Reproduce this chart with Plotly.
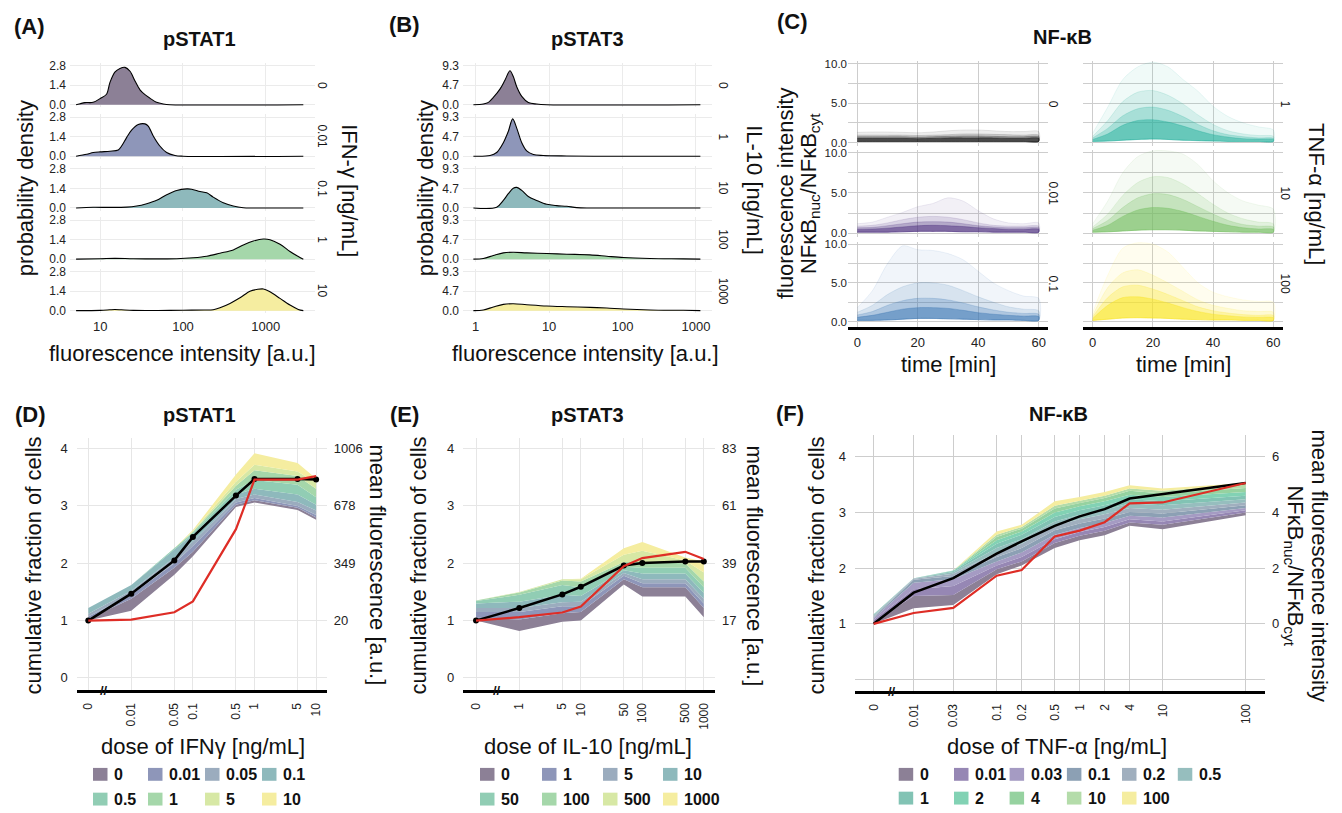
import numpy as np
import plotly.graph_objects as go

W, H = 1342, 813
FONT = "Liberation Sans, Arial, Helvetica, sans-serif"

# ---------------- (A) pSTAT1 single-cell densities ----------------
A_doses = ["0", "0.01", "0.1", "1", "10"]
A_int = [
    [5.1, 5.7, 6.5, 8.2, 10, 11.9, 13.1, 15.1, 17.3, 19.9, 22.9, 26.3, 30.2, 34.7, 39.8, 47.9, 57.8, 69.7, 2850],
    [5.1, 6.86, 8.22, 10, 13.1, 16.5, 18.1, 20.8, 23.9, 28.8, 34.7, 38, 43.7, 52.5, 63.4, 80, 100, 2850],
    [5.1, 8.2, 13.1, 20.8, 27.5, 36.4, 48.1, 63.5, 84, 111, 127, 161, 194, 232, 307, 405, 536, 708, 2850],
    [5.1, 10, 15, 25, 50, 84, 133, 194, 280, 405, 536, 708, 935, 1127, 1489, 1966, 2478, 2850],
    [5.1, 10, 13, 15, 18, 25, 50, 100, 180, 232, 280, 370, 489, 645, 780, 935, 1127, 1489, 1966, 2478, 2850],
]
A_dens = [
    [0, 0.07, 0.15, 0.17, 0.45, 0.75, 1.6, 2.35, 2.6, 2.68, 2.4, 1.7, 1.07, 0.72, 0.47, 0.17, 0.05, 0, 0],
    [0, 0.14, 0.26, 0.31, 0.36, 0.45, 0.73, 1.33, 1.87, 2.27, 2.32, 2.16, 1.45, 0.73, 0.26, 0.05, 0, 0],
    [0, 0.05, 0.04, 0.06, 0.14, 0.31, 0.55, 0.95, 1.26, 1.37, 1.35, 1.18, 1.09, 0.78, 0.38, 0.14, 0.02, 0, 0],
    [0, 0.03, 0.06, 0.03, 0.02, 0.03, 0.1, 0.21, 0.43, 0.66, 1.02, 1.3, 1.45, 1.4, 1.07, 0.55, 0.19, 0],
    [0, 0.02, 0.06, 0.08, 0.06, 0.02, 0.01, 0.03, 0.05, 0.07, 0.21, 0.52, 0.92, 1.4, 1.52, 1.56, 1.35, 0.88, 0.4, 0.09, 0],
]

# ---------------- (B) pSTAT3 single-cell densities ----------------
B_doses = ["0", "1", "10", "100", "1000"]
B_int = [
    [0.93, 1.27, 1.49, 1.74, 2.14, 2.51, 2.93, 3.25, 3.62, 4.24, 5.21, 6.78, 9.27, 1150],
    [0.93, 1.57, 1.93, 2.38, 2.78, 3.19, 3.62, 4.24, 4.95, 6.1, 8.3, 17.4, 40, 1150],
    [0.93, 1.93, 2.38, 2.78, 3.25, 3.62, 4.24, 5.21, 6.78, 9.27, 12.7, 17.4, 23.8, 36.1, 1150],
    [0.93, 1.27, 1.74, 2.38, 3.25, 4.95, 9.27, 17.4, 36.1, 61, 103, 237, 675, 1150],
    [0.93, 1.27, 1.74, 2.38, 3.25, 4.95, 9.27, 17.4, 36.1, 61, 103, 237, 675, 1150],
]
B_dens = [
    [0, 0.16, 0.55, 1.73, 3.7, 5.9, 8.1, 6.7, 4.3, 2.0, 0.55, 0.16, 0, 0],
    [0, 0.16, 0.87, 3.2, 5.9, 8.9, 6.7, 3.2, 1.26, 0.4, 0.16, 0.05, 0, 0],
    [0, 0.16, 1.8, 3.4, 4.7, 4.9, 4.2, 2.75, 1.8, 0.87, 0.55, 0.4, 0.08, 0, 0],
    [0, 0.16, 0.87, 1.5, 1.65, 1.5, 1.34, 1.18, 1.02, 0.7, 0.39, 0.16, 0.08, 0],
    [0, 0.16, 0.87, 1.5, 1.65, 1.42, 1.1, 0.94, 0.79, 0.63, 0.39, 0.16, 0.08, 0],
]

# ---------------- (C) NF-kB trajectories (envelopes over cells) ----------------
C_time = [0, 5, 10, 15, 20, 25, 30, 35, 40, 45, 50, 55, 60]
C_doses = ["0", "0.01", "0.1", "1", "10", "100"]
C_lo = [
    [0.15, 0.15, 0.15, 0.15, 0.15, 0.15, 0.15, 0.15, 0.15, 0.15, 0.15, 0.15, 0.15],
    [0.15, 0.15, 0.15, 0.2, 0.25, 0.25, 0.25, 0.2, 0.2, 0.15, 0.15, 0.15, 0.15],
    [0.15, 0.15, 0.2, 0.3, 0.4, 0.4, 0.35, 0.3, 0.25, 0.2, 0.2, 0.15, 0.15],
    [0.15, 0.2, 0.3, 0.4, 0.45, 0.4, 0.3, 0.25, 0.2, 0.15, 0.15, 0.15, 0.15],
    [0.15, 0.2, 0.3, 0.4, 0.45, 0.45, 0.4, 0.3, 0.25, 0.2, 0.15, 0.15, 0.15],
    [0.15, 0.3, 0.45, 0.5, 0.45, 0.4, 0.3, 0.25, 0.2, 0.2, 0.15, 0.15, 0.15],
]
C_q50 = [
    [0.55, 0.55, 0.55, 0.55, 0.5, 0.55, 0.6, 0.6, 0.6, 0.6, 0.55, 0.55, 0.55],
    [0.5, 0.55, 0.65, 0.8, 0.95, 1.0, 0.95, 0.85, 0.7, 0.6, 0.5, 0.5, 0.5],
    [0.55, 0.8, 1.2, 1.6, 1.8, 1.8, 1.7, 1.45, 1.15, 0.95, 0.8, 0.7, 0.65],
    [0.4, 1.1, 2.2, 2.8, 2.9, 2.6, 2.1, 1.5, 1.0, 0.7, 0.5, 0.45, 0.4],
    [0.4, 1.0, 2.1, 2.9, 3.2, 3.1, 2.7, 2.1, 1.5, 1.0, 0.7, 0.55, 0.5],
    [0.4, 2.1, 3.1, 3.2, 2.9, 2.4, 1.8, 1.3, 0.95, 0.75, 0.6, 0.55, 0.5],
]
C_q75 = [
    [0.75, 0.75, 0.75, 0.75, 0.7, 0.75, 0.8, 0.85, 0.85, 0.8, 0.75, 0.75, 0.75],
    [0.7, 0.75, 0.95, 1.2, 1.4, 1.45, 1.4, 1.2, 0.95, 0.8, 0.7, 0.7, 0.7],
    [0.85, 1.3, 2.1, 2.7, 3.0, 3.0, 2.8, 2.4, 1.9, 1.5, 1.2, 1.05, 0.95],
    [0.6, 1.8, 3.4, 4.3, 4.5, 4.1, 3.3, 2.3, 1.5, 1.0, 0.75, 0.6, 0.55],
    [0.6, 1.6, 3.2, 4.4, 4.9, 4.8, 4.2, 3.3, 2.4, 1.6, 1.1, 0.9, 0.8],
    [0.6, 3.1, 4.5, 4.7, 4.2, 3.5, 2.7, 1.9, 1.4, 1.1, 0.9, 0.8, 0.8],
]
C_q90 = [
    [0.95, 0.95, 0.95, 0.95, 0.9, 0.95, 1.0, 1.1, 1.1, 1.05, 1.0, 0.95, 0.95],
    [0.9, 1.0, 1.3, 1.7, 2.0, 2.1, 2.0, 1.7, 1.3, 1.0, 0.9, 0.9, 0.9],
    [1.2, 2.1, 3.5, 4.5, 5.0, 5.0, 4.7, 4.0, 3.2, 2.5, 1.9, 1.6, 1.4],
    [0.8, 2.8, 5.2, 6.4, 6.6, 6.0, 4.9, 3.5, 2.3, 1.5, 1.1, 0.9, 0.8],
    [0.8, 2.4, 4.7, 6.3, 7.0, 6.9, 6.1, 4.9, 3.6, 2.5, 1.8, 1.4, 1.2],
    [0.8, 4.4, 6.3, 6.7, 6.0, 5.0, 3.9, 2.8, 2.1, 1.7, 1.4, 1.3, 1.2],
]
C_max = [
    [1.3, 1.35, 1.35, 1.3, 1.25, 1.35, 1.5, 1.6, 1.6, 1.5, 1.4, 1.4, 1.4],
    [1.2, 1.4, 2.0, 2.6, 3.3, 3.7, 4.4, 4.0, 2.8, 1.8, 1.3, 1.2, 1.3],
    [1.8, 4.0, 7.5, 9.8, 9.3, 9.2, 8.8, 8.0, 6.5, 5.0, 4.0, 3.3, 3.0],
    [1.2, 4.5, 8.0, 9.6, 10.2, 9.6, 8.0, 6.5, 4.6, 3.3, 2.5, 2.0, 1.6],
    [1.2, 4.0, 7.5, 9.5, 10.2, 10.2, 9.8, 8.5, 6.5, 5.0, 4.0, 3.5, 3.0],
    [1.2, 6.0, 9.5, 10.2, 10.0, 9.0, 7.0, 5.0, 3.8, 3.2, 2.8, 2.6, 2.5],
]
C_rgb = [(0, 0, 0), (75, 45, 125), (60, 120, 180), (40, 178, 158), (115, 190, 95), (250, 230, 35)]

# ---------------- (D) pSTAT1 dose response ----------------
D_doses = [0, 0.01, 0.05, 0.1, 0.5, 1, 5, 10]
D_labels = ["0", "0.01", "0.05", "0.1", "0.5", "1", "5", "10"]
D_mean = [1.0, 1.47, 2.05, 2.46, 3.18, 3.47, 3.47, 3.46]
D_fluo = [20, 26, 68, 130, 544, 828, 828, 848]
D_bounds = [
    [1.00, 1.17, 1.80, 2.12, 2.98, 3.06, 2.93, 2.76],
    [1.03, 1.38, 1.92, 2.20, 3.02, 3.10, 2.97, 2.80],
    [1.07, 1.45, 2.00, 2.30, 3.06, 3.14, 3.00, 2.84],
    [1.12, 1.52, 2.10, 2.38, 3.12, 3.20, 3.07, 2.92],
    [1.22, 1.62, 2.24, 2.50, 3.20, 3.30, 3.20, 3.02],
    [1.22, 1.62, 2.26, 2.53, 3.28, 3.45, 3.37, 3.15],
    [1.22, 1.62, 2.26, 2.55, 3.35, 3.62, 3.52, 3.30],
    [1.22, 1.62, 2.26, 2.56, 3.42, 3.72, 3.60, 3.40],
    [1.22, 1.62, 2.26, 2.58, 3.55, 3.92, 3.75, 3.48],
]
D_colors = ["rgb(140,128,150)", "rgb(142,150,185)", "rgb(155,172,190)", "rgb(142,185,188)",
            "rgb(145,205,180)", "rgb(165,215,170)", "rgb(215,232,165)", "rgb(245,237,160)"]

# ---------------- (E) pSTAT3 dose response ----------------
E_doses = [0, 1, 5, 10, 50, 100, 500, 1000]
E_labels = ["0", "1", "5", "10", "50", "100", "500", "1000"]
E_mean = [1.0, 1.22, 1.457, 1.59, 1.96, 2.006, 2.03, 2.03]
E_fluo = [17, 18.3, 20.1, 22.4, 37.9, 41, 43.4, 40.6]
E_bounds = [
    [1.00, 0.82, 0.98, 1.00, 1.63, 1.42, 1.42, 1.06],
    [1.05, 1.02, 1.13, 1.15, 1.72, 1.58, 1.58, 1.22],
    [1.15, 1.15, 1.25, 1.25, 1.78, 1.65, 1.65, 1.30],
    [1.22, 1.22, 1.32, 1.33, 1.83, 1.72, 1.72, 1.38],
    [1.30, 1.33, 1.45, 1.43, 1.88, 1.82, 1.82, 1.48],
    [1.34, 1.45, 1.62, 1.58, 1.94, 1.92, 1.92, 1.58],
    [1.35, 1.49, 1.70, 1.68, 2.02, 2.02, 2.00, 1.68],
    [1.35, 1.50, 1.72, 1.72, 2.15, 2.22, 2.05, 1.84],
    [1.35, 1.50, 1.72, 1.73, 2.26, 2.37, 2.10, 2.03],
]
E_colors = D_colors

# ---------------- (F) NF-kB dose response ----------------
F_doses = [0, 0.01, 0.03, 0.1, 0.2, 0.5, 1, 2, 4, 10, 100]
F_labels = ["0", "0.01", "0.03", "0.1", "0.2", "0.5", "1", "2", "4", "10", "100"]
F_mean = [1.0, 1.56, 1.82, 2.26, 2.48, 2.76, 2.93, 3.06, 3.25, 3.33, 3.53]
F_fluo = [0, 0.39, 0.57, 1.73, 1.93, 3.14, 3.35, 3.65, 4.33, 4.36, 5.06]
F_bounds = [
    [1.00, 1.28, 1.34, 1.89, 2.05, 2.36, 2.50, 2.59, 2.76, 2.70, 2.95],
    [1.03, 1.50, 1.52, 1.98, 2.12, 2.45, 2.58, 2.67, 2.82, 2.78, 3.00],
    [1.07, 1.62, 1.68, 2.05, 2.20, 2.52, 2.65, 2.74, 2.88, 2.84, 3.04],
    [1.10, 1.74, 1.80, 2.12, 2.28, 2.60, 2.72, 2.81, 2.94, 2.91, 3.08],
    [1.12, 1.79, 1.86, 2.20, 2.36, 2.68, 2.80, 2.89, 3.01, 2.98, 3.13],
    [1.14, 1.81, 1.90, 2.28, 2.44, 2.76, 2.88, 2.97, 3.08, 3.05, 3.18],
    [1.16, 1.82, 1.93, 2.36, 2.52, 2.84, 2.96, 3.05, 3.16, 3.13, 3.24],
    [1.17, 1.82, 1.95, 2.44, 2.60, 2.92, 3.04, 3.13, 3.24, 3.20, 3.30],
    [1.17, 1.82, 1.96, 2.50, 2.66, 3.00, 3.11, 3.20, 3.32, 3.28, 3.37],
    [1.17, 1.82, 1.96, 2.56, 2.71, 3.07, 3.17, 3.26, 3.39, 3.34, 3.44],
    [1.17, 1.82, 1.96, 2.60, 2.74, 3.12, 3.21, 3.30, 3.43, 3.39, 3.50],
    [1.17, 1.82, 1.96, 2.66, 2.78, 3.20, 3.28, 3.37, 3.49, 3.43, 3.53],
]
F_colors = ["rgb(140,128,150)", "rgb(150,135,180)", "rgb(165,155,195)", "rgb(140,160,180)",
            "rgb(160,175,190)", "rgb(150,190,190)", "rgb(130,195,180)", "rgb(130,210,180)",
            "rgb(150,210,160)", "rgb(180,220,170)", "rgb(245,237,160)"]

A_colors = [D_colors[0], D_colors[1], D_colors[3], D_colors[5], D_colors[7]]
B_colors = [E_colors[0], E_colors[1], E_colors[3], E_colors[5], E_colors[7]]

# ---------------------------------------------------------------------------
fig = go.Figure()
axes = {}
ann = []
shapes = []
n_ax = [0]
TICKFONT = dict(family=FONT, size=12, color="#222")
GRID_LIGHT = "#ebebeb"
GRID_DARK = "#cdcdcd"


def add_axes(xpx, ypx, xr, yr, xkw=None, ykw=None):
    n_ax[0] += 1
    s = "" if n_ax[0] == 1 else str(n_ax[0])
    xa = dict(domain=[xpx[0] / W, xpx[1] / W], range=xr, anchor="y" + s,
              zeroline=False, tickfont=TICKFONT, ticks="")
    ya = dict(domain=[1 - ypx[1] / H, 1 - ypx[0] / H], range=yr, anchor="x" + s,
              zeroline=False, tickfont=TICKFONT, ticks="")
    xa.update(xkw or {})
    ya.update(ykw or {})
    axes["xaxis" + s] = xa
    axes["yaxis" + s] = ya
    return "x" + s, "y" + s


def add_right_axis(x, y, yr, ykw):
    n_ax[0] += 1
    s = str(n_ax[0])
    ya = dict(overlaying=y, side="right", anchor=x, range=yr, showgrid=False,
              zeroline=False, tickfont=TICKFONT, ticks="", ticklabelstandoff=6)
    ya.update(ykw)
    axes["yaxis" + s] = ya
    return "y" + s


def text(x, y, s, size=12, bold=False, angle=0, xanchor="center", yanchor="middle", color="#111"):
    ann.append(dict(x=x / W, y=1 - y / H, xref="paper", yref="paper",
                    text=f"<b>{s}</b>" if bold else s, showarrow=False,
                    font=dict(family=FONT, size=size, color=color), textangle=angle,
                    xanchor=xanchor, yanchor=yanchor))


def rgba(c, a):
    return f"rgba({c[0]},{c[1]},{c[2]},{a})"


# ---------------- ridgeline panels (A) and (B) ----------------
ROW_BASE = [101.7, 153.7, 206.0, 257.7, 309.7]
ROW_TOP_PX = 42.2    # plot height above the zero line
ROW_BOT_PX = 2.8     # plot height below the zero line
RIDGE_FONT = dict(family=FONT, size=12, color="#222")


def ridge_panel(xpx, xr, xticks, ticktop, tickmid, ints, dens, colors, labels, lab_x):
    scale = 39.4 / ticktop
    for i in range(5):
        b = ROW_BASE[i]
        last = i == 4
        xa, ya = add_axes(
            xpx, (b - ROW_TOP_PX, b + ROW_BOT_PX), xr,
            [-ROW_BOT_PX / scale, ROW_TOP_PX / scale],
            dict(type="log", tickvals=xticks, ticktext=[str(v) for v in xticks],
                 showgrid=True, gridcolor=GRID_LIGHT, showticklabels=last,
                 ticklabelstandoff=4, tickfont=dict(family=FONT, size=13, color="#222")),
            dict(tickvals=[0, tickmid, ticktop],
                 ticktext=["0.0", f"{tickmid:.1f}", f"{ticktop:.1f}"],
                 showgrid=True, gridcolor=GRID_LIGHT, ticklabelstandoff=3,
                 tickfont=RIDGE_FONT))
        fig.add_trace(go.Scatter(
            x=ints[i], y=dens[i], xaxis=xa, yaxis=ya, mode="lines",
            line=dict(color="black", width=1.1, shape="spline", smoothing=0.9),
            fill="tozeroy", fillcolor=colors[i], hoverinfo="skip"))
        text(lab_x, b - 20, labels[i], size=12, angle=90)


ridge_panel((70, 315), [0.634, 3.596], [10, 100, 1000], 2.8, 1.4,
            A_int, A_dens, A_colors, A_doses, 322)
ridge_panel((463, 712), [-0.173, 3.219], [1, 10, 100, 1000], 9.3, 4.65,
            B_int, B_dens, B_colors, B_doses, 723)

text(29, 23, "(A)", size=22, bold=True)
text(199, 35, "pSTAT1", size=20, bold=True)
text(25, 186, "probability density", size=22, angle=-90)
text(182, 353, "fluorescence intensity [a.u.]", size=22)
text(350, 188, "IFN-γ [ng/mL]", size=22, angle=90)

text(405, 21, "(B)", size=22, bold=True)
text(587, 35, "pSTAT3", size=20, bold=True)
text(425, 186, "probability density", size=22, angle=-90)
text(585, 353, "fluorescence intensity [a.u.]", size=22)
text(755, 188, "IL-10 [ng/mL]", size=22, angle=90)

# ---------------- trajectory panels (C) ----------------
C_cols = [((848, 1048), 857.3, 1038.7), ((1083, 1283), 1092.7, 1273.3)]
C_rows = [(140.0, 60.3), (231.7, 150.0), (320.7, 242.7)]
C_alpha = [0.07, 0.14, 0.26, 0.5]

for ci in range(6):
    col, row = divmod(ci, 3)
    (xd0, xd1), x0px, x60px = C_cols[col]
    y0px, y10px = C_rows[row]
    sx = (x60px - x0px) / 60.0
    sy = (y0px - y10px) / 10.0
    top = y0px - 10.3 * sy
    bot = 326.0 if row == 2 else y0px + 0.45 * sy
    bottom_row = row == 2
    xa, ya = add_axes(
        (xd0, xd1), (top, bot),
        [(xd0 - x0px) / sx, (xd1 - x0px) / sx],
        [-(bot - y0px) / sy, (y0px - top) / sy],
        dict(tickvals=[0, 20, 40, 60], showgrid=True, gridcolor=GRID_DARK, gridwidth=1.2,
             showticklabels=bottom_row, showline=bottom_row, linecolor="black",
             linewidth=2.5, tickfont=dict(family=FONT, size=13, color="#222"),
             ticklabelstandoff=2),
        dict(tickvals=[0, 5, 10], ticktext=["0.0", "5.0", "10.0"],
             showticklabels=(col == 0), tickfont=dict(family=FONT, size=11.5, color="#222"),
             showgrid=True, gridcolor=GRID_DARK, gridwidth=1.2, ticklabelstandoff=0,
             minor=dict(tick0=0, dtick=2.5, showgrid=True, gridcolor=GRID_DARK,
                        gridwidth=1.2, ticks="")))
    c = C_rgb[ci]
    for hi, a in zip([C_max[ci], C_q90[ci], C_q75[ci], C_q50[ci]], C_alpha):
        fig.add_trace(go.Scatter(
            x=C_time + C_time[::-1], y=hi + C_lo[ci][::-1], xaxis=xa, yaxis=ya,
            mode="lines", fill="toself", fillcolor=rgba(c, a),
            line=dict(width=0.6, color=rgba(c, min(a + 0.08, 0.7)), shape="spline", smoothing=0.8),
            hoverinfo="skip"))
    lab_x = 1053 if col == 0 else 1285
    text(lab_x, (top + min(bot, y0px + 3.6)) / 2, C_doses[ci], size=12, angle=90)

text(792, 18, "(C)", size=22, bold=True)
text(1062, 33, "NF-κB", size=20, bold=True)
text(785, 191, "fluorescence intensity", size=22, angle=-90)
text(810, 191, "NFκB<sub>nuc</sub>/NFκB<sub>cyt</sub>", size=22, angle=-90)
text(948, 364, "time [min]", size=22)
text(1183, 364, "time [min]", size=22)
text(1317, 192, "TNF-α [ng/mL]", size=22, angle=90)


# ---------------- dose-response panels (D), (E), (F) ----------------
def dose_pos(doses, zero_pos):
    return [zero_pos if d == 0 else float(np.log10(d)) for d in doses]


def dose_panel(xpx, ypx, xr, yr, doses, labels, zero_pos, bounds, colors, mean, fluo,
               right_range, right_ticks, right_text, grid, markers, ytickvals):
    pos = dose_pos(doses, zero_pos)
    xa, ya = add_axes(
        xpx, ypx, xr, yr,
        dict(tickvals=pos, ticktext=labels, tickangle=-90, showgrid=True, gridcolor=grid,
             showline=True, linecolor="black", linewidth=2.5, ticklabelstandoff=5),
        dict(tickvals=ytickvals, ticktext=[str(v) for v in ytickvals],
             showgrid=True, gridcolor=grid, ticklabelstandoff=8,
             tickfont=dict(family=FONT, size=13, color="#222"),
             minor=dict(tick0=0, dtick=1, showgrid=True, gridcolor=grid, ticks="")))
    yr2 = add_right_axis(xa, ya, right_range,
                         dict(tickvals=right_ticks, ticktext=right_text,
                              tickfont=dict(family=FONT, size=13, color="#222")))
    for k in range(len(colors)):
        lo, hi = bounds[k], bounds[k + 1]
        fig.add_trace(go.Scatter(
            x=pos + pos[::-1], y=hi + lo[::-1], xaxis=xa, yaxis=ya, mode="lines",
            fill="toself", fillcolor=colors[k], line=dict(width=0), hoverinfo="skip"))
    fig.add_trace(go.Scatter(
        x=pos, y=fluo, xaxis=xa, yaxis=yr2, mode="lines",
        line=dict(color="rgb(222,45,38)", width=2.2), hoverinfo="skip"))
    fig.add_trace(go.Scatter(
        x=pos, y=mean, xaxis=xa, yaxis=ya, mode="lines+markers" if markers else "lines",
        line=dict(color="black", width=2.5), marker=dict(color="black", size=6),
        hoverinfo="skip"))


def legend(xs, rows_y, labels, colors):
    per_row = len(xs)
    for i, (lab, col) in enumerate(zip(labels, colors)):
        r, c = divmod(i, per_row)
        x0 = xs[c]
        yc = rows_y[r]
        shapes.append(dict(type="rect", xref="paper", yref="paper",
                           x0=x0 / W, x1=(x0 + 14.5) / W,
                           y0=1 - (yc + 6.5) / H, y1=1 - (yc - 6.5) / H,
                           fillcolor=col, line=dict(width=0)))
        text(x0 + 19, yc, lab, size=16, bold=True, xanchor="left")


def break_mark(x, y):
    text(x, y, "//", size=13, bold=True)


# D : pSTAT1
D_zero = -2 - 43 / 61.6
D_y = (438, 693.3)
D_yr = [-0.219, 4.19]
dose_panel((76.7, 326.7), D_y, [-2.886, 1.172], D_yr, D_doses, D_labels, D_zero,
           D_bounds, D_colors, D_mean, D_fluo,
           [20 + (D_yr[0] - 1) * 328.67, 20 + (D_yr[1] - 1) * 328.67],
           [20, 348.67, 677.33, 1006], ["20", "349", "678", "1006"],
           "#e6e6e6", True, [0, 1, 2, 3, 4])
break_mark(104.3, 693.3)
text(30, 415, "(D)", size=22, bold=True)
text(199, 415, "pSTAT1", size=20, bold=True)
text(33, 567, "cumulative fraction of cells", size=22, angle=-90)
text(378, 567, "mean fluorescence [a.u.]", size=22, angle=90)
text(203, 750, "dose of IFNγ [ng/mL]", size=22)
legend([93, 148, 205, 262], [778, 803], D_labels, D_colors)

# E : pSTAT3
E_zero = -43.3 / 61.5
dose_panel((463.3, 715), D_y, [-0.911, 3.182], D_yr, E_doses, E_labels, E_zero,
           E_bounds, E_colors, E_mean, E_fluo,
           [17 + (D_yr[0] - 1) * 22, 17 + (D_yr[1] - 1) * 22],
           [17, 39, 61, 83], ["17", "39", "61", "83"],
           "#e6e6e6", True, [0, 1, 2, 3, 4])
break_mark(496.7, 693.3)
text(405, 415, "(E)", size=22, bold=True)
text(587, 415, "pSTAT3", size=20, bold=True)
text(418, 567, "cumulative fraction of cells", size=22, angle=-90)
text(755, 567, "mean fluorescence [a.u.]", size=22, angle=90)
text(588, 750, "dose of IL-10 [ng/mL]", size=22)
legend([480, 542, 603, 663], [778, 803], E_labels, E_colors)

# F : NF-kB
F_zero = -2 - 40 / 83
F_y = (435, 694.3)
F_yr = [-0.215, 4.397]
dose_panel((855, 1265), F_y, [-2.707, 2.233], F_yr, F_doses, F_labels, F_zero,
           F_bounds, F_colors, F_mean, F_fluo,
           [(F_yr[0] - 1) * 2, (F_yr[1] - 1) * 2],
           [0, 2, 4, 6], ["0", "2", "4", "6"],
           GRID_DARK, False, [1, 2, 3, 4])
break_mark(891.7, 694.3)
text(790, 414, "(F)", size=22, bold=True)
text(1058, 414, "NF-κB", size=20, bold=True)
text(816, 567, "cumulative fraction of cells", size=22, angle=-90)
text(1294, 567, "NFκB<sub>nuc</sub>/NFκB<sub>cyt</sub>", size=22, angle=90)
text(1320, 567, "mean fluorescence intensity", size=22, angle=90)
text(1057, 750, "dose of TNF-α [ng/mL]", size=22)
legend([898.7, 954, 1009.6, 1066.9, 1122, 1177.8], [778, 802], F_labels, F_colors)

fig.update_layout(
    width=W, height=H, margin=dict(l=0, r=0, t=0, b=0),
    paper_bgcolor="white", plot_bgcolor="white", showlegend=False,
    font=dict(family=FONT, color="#111"),
    annotations=ann, shapes=shapes, **axes)

fig.write_html("out.html")
